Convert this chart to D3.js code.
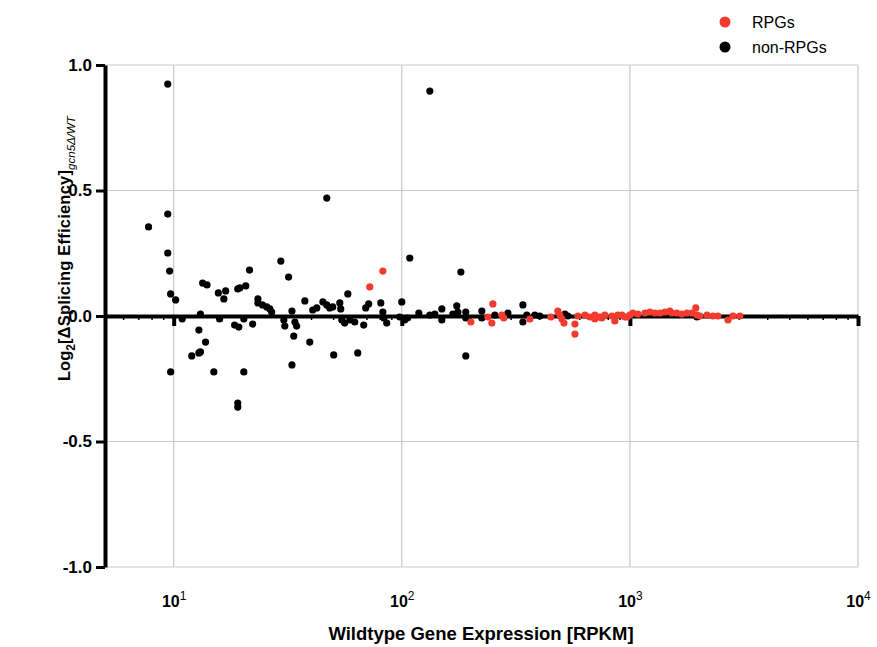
<!DOCTYPE html>
<html>
<head>
<meta charset="utf-8">
<script src="https://cdn.jsdelivr.net/npm/d3@7"></script>
<style>
  body { margin: 0; background: #fff; }
  svg { display: block; font-family: "Liberation Sans", Arial, sans-serif; }
</style>
</head>
<body>
<svg id="chart" width="877" height="647"></svg>
<script>
// RPKM (x) and log2 change in splicing efficiency (y)
const rpgRpkm = [72.4, 82.6, 200.9, 250.8, 238.4, 248.2, 274.6, 280.0, 364.3, 450.6,
  483.1, 493.2, 503.5, 514.0, 574.2, 574.2, 591.6, 635.3, 668.3, 702.1,
  702.1, 738.6, 753.5, 776.5, 833.7, 858.9, 885.1, 922.5, 950.6, 970.4,
  1000, 1031, 1084, 1164, 1224, 1288, 1355, 1425, 1497, 1528,
  1607, 1690, 1778, 1871, 1945, 1968, 2028, 2178, 2313, 2432,
  2692, 2831, 3034];
const rpgDelta = [0.116, 0.179, -0.024, 0.048, -0.004, -0.028, 0.004, -0.008, -0.012, -0.004,
  0.020, 0.004, -0.012, -0.028, -0.032, -0.072, 0, 0.004, -0.004, 0.004,
  -0.012, -0.004, -0.008, 0.004, 0, -0.020, 0.004, 0.004, -0.004, -0.004,
  0.004, 0.012, 0.008, 0.012, 0.016, 0.012, 0.012, 0.016, 0.020, 0.012,
  0.012, 0.008, 0.012, 0.012, 0.032, 0.004, 0, 0.004, 0, 0,
  -0.016, 0, 0];

const otherRpkm = [9.42, 132.7, 46.9, 7.76, 9.42, 9.42, 9.6, 9.7, 10.2, 10.9,
  9.7, 13.1, 12.9, 13.8, 13.1, 12.9, 12.0, 13.4, 14.0, 15.0,
  15.7, 16.9, 16.6, 15.9, 19.1, 19.5, 20.7, 21.5, 18.5, 19.3,
  20.3, 22.2, 20.3, 19.1, 19.1, 23.4, 23.4, 24.5, 25.6, 26.4,
  26.9, 29.5, 31.9, 33.0, 30.4, 30.7, 34.0, 34.6, 33.6, 33.0,
  37.6, 39.5, 40.7, 42.4, 45.1, 46.9, 48.3, 49.8, 53.5, 54.0,
  50.3, 58.0, 54.6, 56.2, 59.2, 62.2, 64.1, 68.1, 69.5, 71.6,
  80.9, 82.6, 83.4, 85.9, 100, 98, 103, 106, 108.4, 118.8,
  132.7, 139.6, 149.8, 149.8, 167.5, 174.2, 176.2, 181.6, 190.8, 190.8,
  190.8, 224.4, 224.4, 255.9, 291.7, 339.6, 339.6, 353.2, 383.0, 402.7,
  518.8, 534.6, 1968];
const otherDelta = [0.924, 0.896, 0.470, 0.355, 0.406, 0.251, 0.179, 0.088, 0.064, -0.012,
  -0.223, 0.008, -0.056, -0.104, -0.143, -0.147, -0.159, 0.131, 0.124, -0.223,
  0.092, 0.100, 0.068, -0.012, 0.108, 0.112, 0.120, 0.183, -0.036, -0.044,
  -0.012, -0.032, -0.223, -0.347, -0.363, 0.068, 0.052, 0.044, 0.036, 0.028,
  0.016, 0.219, 0.155, 0.020, -0.016, -0.040, -0.024, -0.040, -0.080, -0.195,
  0.060, -0.104, 0.024, 0.032, 0.056, 0.044, 0.032, 0.036, 0.052, 0.028,
  -0.155, 0.088, -0.016, -0.028, -0.016, -0.024, -0.147, -0.036, 0.032, 0.048,
  0.052, 0.016, -0.008, -0.028, 0.056, -0.004, -0.016, -0.008, 0.231, 0.012,
  0.004, 0.008, 0.028, -0.016, 0.008, 0.040, 0.016, 0.175, 0.016, -0.008,
  -0.159, 0.020, -0.008, 0.004, 0.012, 0.044, -0.024, 0.004, 0.004, 0,
  0.008, 0, -0.004];

const yTicks = [-1, -0.5, 0, 0.5, 1];
const xDecades = [10, 100, 1000, 10000];
const xExponents = ['1', '2', '3', '4'];
const legendLabels = ['RPGs', 'non-RPGs'];

const red = '#f23b2f';
const svg = d3.select('#chart');

const x = d3.scaleLog().domain([5, 10000]).range([105, 858]);
const y = d3.scaleLinear().domain([-1, 1]).range([567, 65]);

// grid
const grid = svg.append('g')
  .attr('stroke', '#c9c9c9')
  .attr('stroke-width', 1.2);
grid.selectAll('.h')
  .data(yTicks.filter(d => d !== 0))
  .join('line')
    .attr('x1', x(5)).attr('x2', x(10000))
    .attr('y1', d => y(d)).attr('y2', d => y(d));
grid.selectAll('.v')
  .data(xDecades)
  .join('line')
    .attr('x1', d => x(d)).attr('x2', d => x(d))
    .attr('y1', y(1)).attr('y2', y(-1));

// x axis sits on y = 0
const minorTicks = [];
for (let p = 0; p < 4; p++) {
  for (let m = 1; m < 10; m++) {
    const v = m * Math.pow(10, p);
    if (v >= 5 && !xDecades.includes(v)) minorTicks.push(v);
  }
}
const zeroAxisMinor = svg.append('g')
  .attr('transform', `translate(0,${y(0)})`)
  .call(d3.axisBottom(x).tickValues(minorTicks).tickSize(4).tickFormat(''));
zeroAxisMinor.select('.domain').remove();
zeroAxisMinor.selectAll('line').attr('stroke-width', 1.5);

const zeroAxis = svg.append('g')
  .attr('transform', `translate(0,${y(0)})`)
  .call(d3.axisBottom(x).tickValues(xDecades).tickSize(10).tickSizeOuter(0).tickFormat(''));
zeroAxis.select('.domain').attr('stroke-width', 4);
zeroAxis.selectAll('line').attr('stroke-width', 4);

// x tick labels at the bottom
const xLabels = svg.append('g')
  .attr('transform', `translate(0,${y(-1)})`)
  .call(d3.axisBottom(x).tickValues(xDecades).tickSize(0).tickPadding(0).tickFormat(''));
xLabels.select('.domain').remove();
xLabels.selectAll('.tick').append('text')
  .attr('y', 40)
  .attr('text-anchor', 'middle')
  .attr('fill', '#000')
  .attr('font-size', 16)
  .attr('font-weight', 'bold')
  .each(function (d, i) {
    const t = d3.select(this);
    t.append('tspan').text('10');
    t.append('tspan').attr('dy', -7).attr('font-size', 12).attr('font-weight', 'normal').text(xExponents[i]);
  });

// y axis
const yAxis = svg.append('g')
  .attr('transform', `translate(${x(5)},0)`)
  .call(d3.axisLeft(y).tickValues(yTicks).tickSize(9).tickSizeOuter(0).tickPadding(4).tickFormat(d => d.toFixed(1)));
yAxis.select('.domain').attr('stroke-width', 4);
yAxis.selectAll('line').attr('stroke-width', 3);
yAxis.selectAll('text')
  .attr('font-size', 17)
  .attr('font-weight', 'bold')
  .attr('fill', '#000')
  .attr('font-family', '"Liberation Sans", Arial, sans-serif');

// points
svg.append('g')
  .selectAll('circle')
  .data(otherRpkm.map((v, i) => [v, otherDelta[i]]))
  .join('circle')
    .attr('cx', d => x(d[0]))
    .attr('cy', d => y(d[1]))
    .attr('r', 3.6)
    .attr('fill', '#000');

svg.append('g')
  .selectAll('circle')
  .data(rpgRpkm.map((v, i) => [v, rpgDelta[i]]))
  .join('circle')
    .attr('cx', d => x(d[0]))
    .attr('cy', d => y(d[1]))
    .attr('r', 3.6)
    .attr('fill', red);

// axis titles
svg.append('text')
  .attr('x', 481)
  .attr('y', 640)
  .attr('text-anchor', 'middle')
  .attr('font-size', 18.5)
  .attr('font-weight', 'bold')
  .text('Wildtype Gene Expression [RPKM]');

const yTitle = svg.append('text')
  .attr('transform', 'translate(70,381) rotate(-90)')
  .attr('text-anchor', 'start')
  .attr('font-size', 16.5)
  .attr('font-weight', 'bold');
yTitle.append('tspan').text('Log');
yTitle.append('tspan').attr('dy', 5).attr('font-size', 12).text('2');
yTitle.append('tspan').attr('dy', -5).attr('textLength', 174).text('[ΔSplicing Efficiency]');
yTitle.append('tspan').attr('dy', 5).attr('font-size', 11.5).attr('font-style', 'italic').attr('font-weight', 'normal').text('gcn5Δ/WT');

// legend
const legend = svg.append('g')
  .selectAll('g')
  .data(legendLabels)
  .join('g')
    .attr('transform', (d, i) => `translate(725,${22 + i * 25})`);
legend.append('circle')
  .attr('r', 5.5)
  .attr('fill', (d, i) => i === 0 ? red : '#000');
legend.append('text')
  .attr('x', 27)
  .attr('dy', '0.35em')
  .attr('font-size', 16)
  .text(d => d);
</script>
</body>
</html>
